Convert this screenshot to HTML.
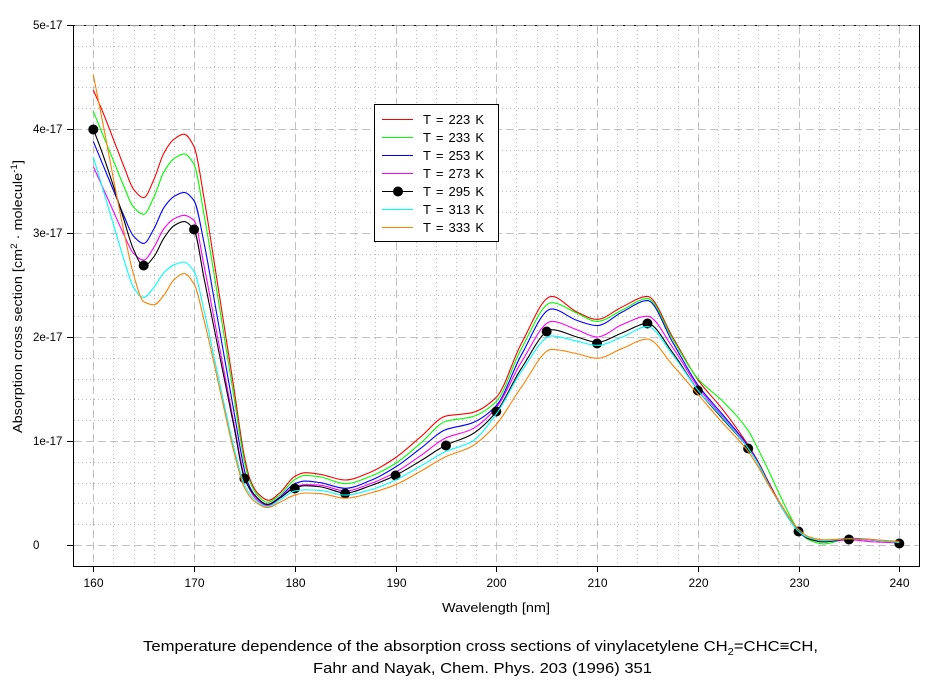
<!DOCTYPE html>
<html>
<head>
<meta charset="utf-8">
<style>
html,body{margin:0;padding:0;background:#fff;}
svg{display:block;}
text{font-family:"Liberation Sans",Arial,sans-serif;fill:#000;}
</style>
</head>
<body>
<svg id="c" width="944" height="682" viewBox="0 0 944 682" xmlns="http://www.w3.org/2000/svg">
<defs>
<clipPath id="pa"><rect x="74" y="25" width="845" height="541"/></clipPath>
</defs>
<rect width="944" height="682" fill="#fff"/>
<g id="grid"></g>
<g id="curves" clip-path="url(#pa)"></g>
<g id="axes" stroke="#000" stroke-width="1" fill="none">
<line x1="73" y1="25.5" x2="920" y2="25.5" stroke="#9a9a9a"/>
<line x1="73" y1="25.5" x2="920" y2="25.5" stroke="#000" stroke-dasharray="2,9"/>
<line x1="73.5" y1="25" x2="73.5" y2="567"/>
<line x1="73" y1="566.5" x2="920" y2="566.5"/>
<line x1="919.5" y1="25" x2="919.5" y2="567"/>
</g>
<g id="ticks" stroke="#000" stroke-width="1"></g>
<g id="ylabels" font-size="11.5">
<text x="33" y="29">5e-17</text>
<text x="33" y="133">4e-17</text>
<text x="33" y="237">3e-17</text>
<text x="33" y="341">2e-17</text>
<text x="33" y="445">1e-17</text>
<text x="33" y="549">0</text>
</g>
<g id="xlabels" font-size="12" text-anchor="middle"></g>
<text x="496" y="612" font-size="12.5" text-anchor="middle" textLength="108" lengthAdjust="spacingAndGlyphs">Wavelength [nm]</text>
<text transform="translate(22,296.5) rotate(-90)" font-size="13" text-anchor="middle" textLength="273" lengthAdjust="spacingAndGlyphs">Absorption cross section [cm<tspan dy="-5" font-size="9">2</tspan><tspan dy="5"> · molecule</tspan><tspan dy="-5" font-size="9">-1</tspan><tspan dy="5">]</tspan></text>
<text x="143" y="651" font-size="15" textLength="675" lengthAdjust="spacingAndGlyphs">Temperature dependence of the absorption cross sections of vinylacetylene CH<tspan dy="4" font-size="10">2</tspan><tspan dy="-4">=CHC≡CH,</tspan></text>
<text x="313" y="673" font-size="15" textLength="339" lengthAdjust="spacingAndGlyphs">Fahr and Nayak, Chem. Phys. 203 (1996) 351</text>
<g id="legend">
<rect x="374.5" y="104.5" width="124" height="137" fill="#fff" stroke="#000" stroke-width="1"/>
<rect x="382" y="119" width="31" height="1" fill="#ff0000"/>
<rect x="382" y="137" width="31" height="1" fill="#00ff00"/>
<rect x="382" y="155" width="31" height="1" fill="#0000ff"/>
<rect x="382" y="173" width="31" height="1" fill="#ff00ff"/>
<rect x="382" y="191" width="31" height="1" fill="#000000"/>
<rect x="382" y="209" width="31" height="1" fill="#00ffff"/>
<rect x="382" y="227" width="31" height="1" fill="#ff8000"/>
<circle cx="398" cy="191.5" r="5" fill="#000"/>
<g font-size="13" word-spacing="1.5">
<text x="423" y="124">T = 223 K</text>
<text x="423" y="142">T = 233 K</text>
<text x="423" y="160">T = 253 K</text>
<text x="423" y="178">T = 273 K</text>
<text x="423" y="196">T = 295 K</text>
<text x="423" y="214">T = 313 K</text>
<text x="423" y="232">T = 333 K</text>
</g>
</g>
</svg>
<script>
(function(){
var NS="http://www.w3.org/2000/svg";
function el(tag,attrs,parent){var e=document.createElementNS(NS,tag);for(var k in attrs)e.setAttribute(k,attrs[k]);parent.appendChild(e);return e;}
function X(l){return 93.3+(l-160)*10.075;}
function Y(v){return 545-v*104;}
var grid=document.getElementById('grid');
var ticks=document.getElementById('ticks');
var xl=document.getElementById('xlabels');
var l,v,px,py;
for(l=160;l<=242;l+=2){ if(l%10===0) continue; px=Math.round(X(l))+0.5; if(px>919) continue;
  el('line',{x1:px,y1:26,x2:px,y2:566,stroke:'#b8b8b8','stroke-width':1,'stroke-dasharray':'1,3'},grid);}
for(var i=-1;i<25;i++){ if(i%5===0) continue; v=i*0.2; py=Math.round(Y(v))+0.5; if(py<26||py>566) continue;
  el('line',{x1:74,y1:py,x2:919,y2:py,stroke:'#b8b8b8','stroke-width':1,'stroke-dasharray':'1,3'},grid);}
for(l=160;l<=240;l+=10){ px=Math.round(X(l))+0.5;
  el('line',{x1:px,y1:26,x2:px,y2:566,stroke:'#c0c0c0','stroke-width':1,'stroke-dasharray':'8,4'},grid);
  el('line',{x1:px,y1:566,x2:px,y2:572},ticks);
  var t=el('text',{x:Math.round(X(l))+0.5,y:587},xl); t.textContent=String(l);}
for(v=0;v<=4;v++){ py=Math.round(Y(v))+0.5;
  el('line',{x1:74,y1:py,x2:919,y2:py,stroke:'#c0c0c0','stroke-width':1,'stroke-dasharray':'8,4'},grid);}
for(v=0;v<=5;v++){ py=Math.round(Y(v))+0.5; el('line',{x1:67,y1:py,x2:73,y2:py},ticks);}

function path(pts){
 var n=pts.length,x=[],y=[],h=[],d=[],m=[],k;
 for(k=0;k<n;k++){x.push(X(pts[k][0]));y.push(Y(pts[k][1]));}
 for(k=0;k<n-1;k++){h[k]=x[k+1]-x[k];d[k]=(y[k+1]-y[k])/h[k];}
 m[0]=d[0];m[n-1]=d[n-2];
 for(k=1;k<n-1;k++){
  if(d[k-1]*d[k]<=0)m[k]=0;
  else{var w1=2*h[k]+h[k-1],w2=h[k]+2*h[k-1];m[k]=(w1+w2)/(w1/d[k-1]+w2/d[k]);}
 }
 var s='M'+x[0].toFixed(2)+','+y[0].toFixed(2);
 for(k=0;k<n-1;k++){
  s+='C'+(x[k]+h[k]/3).toFixed(2)+','+(y[k]+m[k]*h[k]/3).toFixed(2)+' '+(x[k+1]-h[k]/3).toFixed(2)+','+(y[k+1]-m[k+1]*h[k]/3).toFixed(2)+' '+x[k+1].toFixed(2)+','+y[k+1].toFixed(2);
 }
 return s;
}
var tail=[[226,0.78],[227,0.59],[228,0.42],[229,0.26],[230,0.13],[231,0.06],[232.5,0.03],[235,0.06],[237.5,0.045],[240,0.025]];
var series=[
 {c:'#ff0000',p:[[160,4.375],[161,4.15],[162,3.90],[163,3.65],[164,3.42],[165,3.34],[166,3.511],[167,3.767],[168,3.901],[169,3.95],[170,3.83],[171,3.33],[172,2.72],[173,2.1],[174,1.48],[175,0.85],[175.6,0.62],[176.4,0.49],[177.4,0.43],[178.5,0.50],[180,0.66],[181,0.695],[182.5,0.68],[185,0.625],[187.5,0.70],[190,0.84],[192.5,1.04],[195,1.24],[197.5,1.27],[200,1.42],[202.5,1.94],[205.5,2.39],[208,2.24],[210,2.17],[212.5,2.29],[215,2.39],[217.5,2.0],[220,1.59],[222.5,1.30],[225,0.96],[226,0.80],[227,0.61],[228,0.43],[229,0.27],[230,0.13],[231,0.06],[232.5,0.03],[235,0.06],[237.5,0.045],[240,0.025]]},
 {c:'#00ff00',p:[[160,4.17],[161,3.932],[162,3.695],[163,3.457],[164,3.249],[165,3.18],[166,3.342],[167,3.586],[168,3.714],[169,3.76],[170,3.66],[171,3.17],[172,2.6],[173,2.0],[174,1.4],[175,0.80],[175.5,0.62],[176.3,0.48],[177.3,0.41],[178.5,0.48],[180,0.63],[181,0.67],[182.5,0.655],[185,0.59],[187.5,0.66],[190,0.785],[192.5,0.98],[195,1.19],[197.5,1.23],[200,1.38],[202.5,1.89],[205.5,2.33],[208,2.23],[210,2.15],[212.5,2.26],[215,2.37],[217.5,1.98],[220,1.60],[222.5,1.38],[225,1.10],[226,0.92],[227,0.72],[228,0.51],[229,0.31],[230,0.14],[231,0.05],[232.5,0.01],[235,0.06],[237.5,0.045],[240,0.025]]},
 {c:'#0000ff',p:[[160,3.88],[161,3.645],[162,3.41],[163,3.174],[164,2.969],[165,2.90],[166,3.037],[167,3.243],[168,3.351],[169,3.39],[170,3.31],[171,2.90],[172,2.36],[173,1.81],[174,1.26],[175,0.72],[175.3,0.61],[176.2,0.46],[177.3,0.39],[178.5,0.46],[180,0.59],[181,0.615],[182.5,0.60],[185,0.545],[187.5,0.62],[190,0.75],[192.5,0.93],[195,1.11],[197.5,1.17],[200,1.34],[202.5,1.83],[205.5,2.27],[208,2.16],[210,2.11],[212.5,2.24],[215,2.35],[217.5,1.95],[220,1.54],[222.5,1.25],[225,0.95],[226,0.79],[227,0.60],[228,0.42],[229,0.26],[230,0.13],[231,0.06],[232.5,0.035],[235,0.065],[237.5,0.05],[240,0.025]]},
 {c:'#ff00ff',p:[[160,3.64],[161,3.424],[162,3.208],[163,2.992],[164,2.803],[165,2.74],[166,2.86],[167,3.041],[168,3.136],[169,3.17],[170,3.12],[171,2.68],[172,2.17],[173,1.66],[174,1.15],[175,0.66],[176.1,0.45],[177.3,0.38],[178.5,0.45],[180,0.56],[181,0.58],[182.5,0.575],[185,0.52],[187.5,0.59],[190,0.70],[192.5,0.86],[195,1.03],[197.5,1.11],[200,1.32],[202.5,1.76],[205.5,2.15],[208,2.07],[210,2.00],[212.5,2.12],[215,2.20],[217.5,1.90],[220,1.52],[222.5,1.23],[225,0.94],[226,0.78],[227,0.59],[228,0.42],[229,0.26],[230,0.13],[231,0.06],[232.5,0.03],[235,0.05],[237.5,0.03],[240,0.02]]},
 {c:'#000000',mk:true,p:[[160,4.0],[161,3.74],[162,3.45],[163,3.14],[164,2.84],[165,2.68],[166,2.77],[167,2.95],[168,3.07],[169,3.11],[170,3.03],[171,2.56],[172,2.08],[173,1.6],[174,1.12],[175,0.64],[176,0.48],[177.3,0.39],[178.5,0.45],[180,0.55],[181,0.57],[182.5,0.56],[185,0.50],[187.5,0.57],[190,0.67],[192.5,0.81],[195,0.96],[197.5,1.06],[200,1.28],[202.5,1.70],[205.5,2.07],[208,2.00],[210,1.95],[212.5,2.04],[215,2.13],[217.5,1.85],[220,1.49],[222.5,1.21],[225,0.93]].concat(tail)},
 {c:'#00ffff',p:[[160,3.73],[161,3.406],[162,3.082],[163,2.758],[164,2.475],[165,2.38],[166,2.475],[167,2.618],[168,2.693],[169,2.72],[170,2.63],[171,2.25],[172,1.8],[173,1.35],[174,0.92],[175,0.58],[176,0.44],[177.3,0.37],[178.5,0.43],[180,0.52],[181,0.53],[182.5,0.525],[185,0.48],[187.5,0.53],[190,0.625],[192.5,0.76],[195,0.90],[197.5,0.99],[200,1.26],[202.5,1.67],[205.5,2.01],[208,1.96],[210,1.92],[212.5,2.00],[215,2.10],[217.5,1.83],[220,1.49],[222.5,1.22],[225,0.93],[226,0.78],[227,0.59],[228,0.42],[229,0.26],[230,0.13],[231,0.07],[232.5,0.04],[235,0.06],[237.5,0.045],[240,0.025]]},
 {c:'#ff8000',p:[[160,4.52],[161,4.03],[162,3.52],[163,3.03],[164,2.6],[165,2.34],[166,2.31],[167,2.40],[168,2.55],[169,2.61],[170,2.51],[171,2.16],[172,1.74],[173,1.3],[174,0.88],[175,0.55],[176,0.42],[177.3,0.36],[178.5,0.41],[180,0.48],[181,0.50],[182.5,0.495],[185,0.45],[187.5,0.50],[190,0.58],[192.5,0.71],[195,0.85],[197.5,0.945],[200,1.16],[202.5,1.52],[205.5,1.88],[208,1.84],[210,1.795],[212.5,1.89],[215,1.98],[217.5,1.73],[220,1.45],[222.5,1.17],[225,0.90],[226,0.75],[227,0.58],[228,0.43],[229,0.28],[230,0.15],[231,0.08],[232.5,0.05],[235,0.06],[237.5,0.05],[240,0.035]]}
];
var cg=document.getElementById('curves');
var mky=[129,265,229,478,488,493,475,445,411,331,343,323,390,448,531,539,543];
for(var s=0;s<series.length;s++){
 var S=series[s];
 el('path',{d:path(S.p),fill:'none',stroke:S.c,'stroke-width':1.1,'stroke-linejoin':'round'},cg);
 if(S.mk){
  for(var j=0;j<mky.length;j++){
   el('circle',{cx:X(160+5*j).toFixed(2),cy:mky[j]+0.5,r:5,fill:'#000'},cg);
  }
 }
}
})();
</script>
</body>
</html>
